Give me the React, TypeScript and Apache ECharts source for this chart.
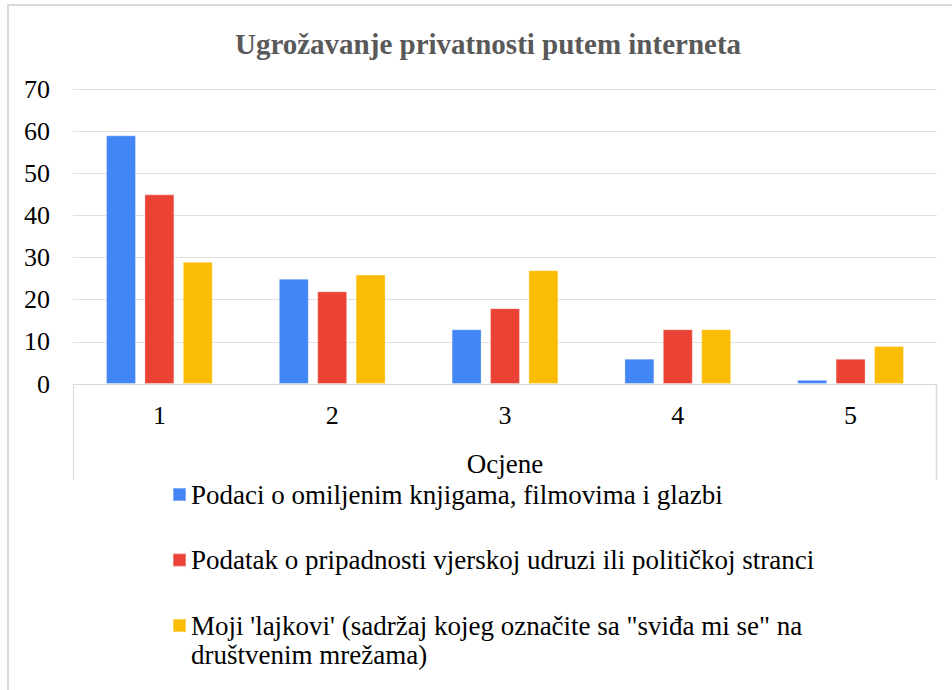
import React, { useEffect, useRef } from "react";
import * as echarts from "echarts";

const categories = ["1", "2", "3", "4", "5"];
const seriesNames = [
  "Podaci o omiljenim knjigama, filmovima i glazbi",
  "Podatak o pripadnosti vjerskoj udruzi ili političkoj stranci",
  "Moji 'lajkovi' (sadržaj kojeg označite sa \"sviđa mi se\" na društvenim mrežama)",
];
const booksFilmsMusic = [59, 25, 13, 6, 1];
const religionPolitics = [45, 22, 18, 13, 6];
const myLikes = [29, 26, 27, 13, 9];
const seriesValues = [booksFilmsMusic, religionPolitics, myLikes];
const colors = ["#4285F4", "#EA4335", "#FBBC04"];
const yTicks = { min: 0, max: 70, interval: 10 };

const FONT = "'Liberation Serif', 'Times New Roman', serif";
const GRID = { left: 73, right: 937, top: 89, bottom: 384 };
const W = 952;
const H = 690;

export default function App() {
  const ref = useRef<HTMLDivElement>(null);
  useEffect(() => {
    if (!ref.current) return;
    const chart = echarts.init(ref.current, null, { renderer: "svg" });
    const legendBase = {
      orient: "vertical" as const,
      left: 172,
      padding: 0,
      itemWidth: 13,
      itemHeight: 13,
      itemGap: 0,
      icon: "rect",
      textStyle: { fontFamily: FONT, fontSize: 27, color: "#000", lineHeight: 29 },
    };
    chart.setOption({
      animation: false,
      backgroundColor: "#fff",
      title: {
        text: "Ugrožavanje privatnosti putem interneta",
        left: 483,
        top: 24,
        textAlign: "center",
        textStyle: { fontFamily: FONT, fontSize: 29, fontWeight: "bold", color: "#595959" },
      },
      legend: [
        { ...legendBase, top: 480, data: [seriesNames[0]] },
        { ...legendBase, top: 545.5, data: [seriesNames[1]] },
        {
          ...legendBase,
          top: 582,
          data: [seriesNames[2]],
          formatter: () =>
            " \nMoji 'lajkovi' (sadržaj kojeg označite sa \"sviđa mi se\" na\ndruštvenim mrežama)",
        },
      ],
      grid: {
        left: GRID.left,
        right: W - GRID.right,
        top: GRID.top,
        bottom: H - GRID.bottom,
        containLabel: false,
      },
      xAxis: {
        type: "category",
        data: categories,
        name: "Ocjene",
        nameLocation: "middle",
        nameGap: 66,
        nameTextStyle: { fontFamily: FONT, fontSize: 27, color: "#000" },
        axisLine: { show: true, lineStyle: { color: "#d9d9d9", width: 1 } },
        axisTick: { show: false },
        axisLabel: { fontFamily: FONT, fontSize: 26, color: "#000", margin: 18 },
      },
      yAxis: {
        type: "value",
        min: yTicks.min,
        max: yTicks.max,
        interval: yTicks.interval,
        axisLine: { show: false },
        axisTick: { show: false },
        axisLabel: { fontFamily: FONT, fontSize: 26, color: "#000", margin: 23 },
        splitLine: { lineStyle: { color: "#e0e0e0", width: 1 } },
      },
      series: seriesValues.map((vals, i) => ({
        type: "bar",
        name: seriesNames[i],
        data: vals,
        barWidth: 30,
        barGap: "28%",
        itemStyle: { color: colors[i], borderColor: "rgba(255,255,255,0.35)", borderWidth: 1 },
      })),
      graphic: [
        {
          type: "rect",
          shape: { x: 8, y: 5, width: 1000, height: 800 },
          style: { fill: "none", stroke: "#d9d9d9", lineWidth: 2 },
          silent: true,
        },
        {
          type: "line",
          shape: { x1: GRID.left + 0.5, y1: GRID.bottom, x2: GRID.left + 0.5, y2: 480 },
          style: { stroke: "#d9d9d9", lineWidth: 1 },
          silent: true,
        },
        {
          type: "line",
          shape: { x1: GRID.right - 0.5, y1: GRID.bottom, x2: GRID.right - 0.5, y2: 480 },
          style: { stroke: "#d9d9d9", lineWidth: 1.5 },
          silent: true,
        },
      ],
    });
    return () => chart.dispose();
  }, []);
  return (
    <div
      ref={ref}
      style={{ position: "fixed", left: 0, top: 0, width: W, height: H, background: "#fff" }}
    />
  );
}
